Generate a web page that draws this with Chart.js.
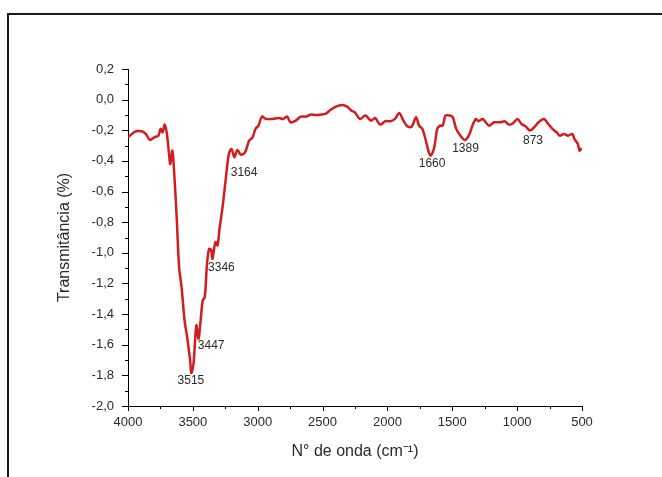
<!DOCTYPE html>
<html>
<head>
<meta charset="utf-8">
<script src="https://cdn.jsdelivr.net/npm/chart.js@4"></script>
<style>
  body { margin: 0; background: #fff; }
  #wrap { position: relative; width: 662px; height: 477px; }
</style>
</head>
<body>
<div id="wrap"><canvas id="ftir" width="662" height="477"></canvas></div>
<script>
// wavenumber (cm-1) and transmittance
const waveNumbers = [4000, 3945, 3896, 3863, 3831, 3798, 3766, 3749, 3733, 3717, 3700, 3684, 3674, 3658, 3645,
  3626, 3606, 3587, 3564, 3544, 3521, 3512, 3495, 3473, 3456, 3440, 3424, 3408, 3391, 3375, 3359, 3349,
  3326, 3310, 3293, 3271, 3245, 3222, 3202, 3180, 3157, 3131, 3098, 3066, 3040, 3017, 2994, 2968, 2935,
  2886, 2838, 2805, 2773, 2747, 2707, 2668, 2626, 2593, 2545, 2479, 2447, 2398, 2349, 2310, 2277, 2251,
  2212, 2170, 2127, 2095, 2056, 2017, 1975, 1942, 1909, 1877, 1844, 1812, 1779, 1756, 1730, 1704, 1681,
  1665, 1639, 1616, 1594, 1574, 1552, 1519, 1496, 1470, 1438, 1405, 1373, 1340, 1317, 1298, 1265, 1242,
  1216, 1177, 1128, 1096, 1063, 1031, 998, 966, 933, 900, 868, 835, 793, 760, 728, 695, 672, 640, 607,
  575, 558, 532, 519, 509, 500];
const transmittance = [-0.246, -0.209, -0.207, -0.224, -0.263, -0.246, -0.235, -0.191, -0.213, -0.163, -0.224,
  -0.354, -0.42, -0.333, -0.463, -0.746, -1.094, -1.224, -1.441, -1.55, -1.702, -1.785, -1.724, -1.474,
  -1.561, -1.441, -1.311, -1.289, -1.072, -0.974, -0.98, -1.039, -0.93, -0.952, -0.833, -0.702, -0.507,
  -0.354, -0.322, -0.376, -0.328, -0.359, -0.344, -0.267, -0.246, -0.191, -0.17, -0.111, -0.126, -0.126,
  -0.12, -0.126, -0.111, -0.148, -0.137, -0.111, -0.111, -0.098, -0.1, -0.093, -0.072, -0.046, -0.035,
  -0.046, -0.072, -0.083, -0.126, -0.104, -0.137, -0.12, -0.163, -0.141, -0.141, -0.126, -0.087, -0.137,
  -0.176, -0.176, -0.115, -0.17, -0.191, -0.267, -0.344, -0.365, -0.311, -0.191, -0.17, -0.17, -0.104,
  -0.104, -0.115, -0.191, -0.235, -0.263, -0.235, -0.159, -0.126, -0.141, -0.126, -0.148, -0.17, -0.148,
  -0.148, -0.141, -0.163, -0.154, -0.126, -0.159, -0.176, -0.202, -0.18, -0.148, -0.126, -0.159, -0.191,
  -0.213, -0.235, -0.224, -0.235, -0.224, -0.257, -0.289, -0.333, -0.322, -0.328];

// peak labels and where they sit (data units)
const peakLabels = ["3515", "3447", "3346", "3164", "1660", "1389", "873"];
const peakLabelX = [3515, 3359, 3280, 3105, 1656, 1398, 878];
const peakLabelY = [-1.833, -1.604, -1.094, -0.474, -0.415, -0.322, -0.267];

const xTickValues = [4000, 3500, 3000, 2500, 2000, 1500, 1000, 500];

const FONT = "Arial, 'Liberation Sans', sans-serif";

// frame, minor ticks and peak labels
const extras = {
  id: "extras",
  beforeDraw(chart) {
    const ctx = chart.ctx;
    ctx.save();
    ctx.fillStyle = "#fff";
    ctx.fillRect(0, 0, chart.width, chart.height);
    ctx.strokeStyle = "#1a1a1a";
    ctx.lineWidth = 2;
    ctx.beginPath();
    ctx.moveTo(8, chart.height);
    ctx.lineTo(8, 14);
    ctx.lineTo(chart.width, 14);
    ctx.stroke();
    ctx.restore();
  },
  afterDraw(chart) {
    const ctx = chart.ctx;
    const x = chart.scales.x, y = chart.scales.y;
    ctx.save();
    ctx.strokeStyle = "#000";
    ctx.lineWidth = 1;
    ctx.beginPath();
    for (let w = 500; w <= 4000; w += 250) {
      const px = Math.round(x.getPixelForValue(w)) + 0.5;
      const len = w % 500 === 0 ? 5 : 3;
      ctx.moveTo(px, y.bottom);
      ctx.lineTo(px, y.bottom + len);
    }
    for (let i = 0; i <= 22; i++) {
      const v = -2.0 + i * 0.1;
      const py = Math.round(y.getPixelForValue(v)) + 0.5;
      const len = i % 2 === 0 ? 6 : 3;
      ctx.moveTo(x.left, py);
      ctx.lineTo(x.left - len, py);
    }
    ctx.stroke();

    ctx.fillStyle = "#2a2a2a";
    ctx.font = "12px " + FONT;
    ctx.textAlign = "center";
    ctx.textBaseline = "middle";
    peakLabels.forEach((t, i) => {
      ctx.fillText(t, x.getPixelForValue(peakLabelX[i]), y.getPixelForValue(peakLabelY[i]));
    });
    ctx.restore();
  }
};

new Chart(document.getElementById("ftir"), {
  type: "line",
  data: {
    datasets: [{
      data: waveNumbers.map((w, i) => ({ x: w, y: transmittance[i] })),
      borderColor: "rgb(210, 28, 30)",
      borderWidth: 2.5,
      pointRadius: 0,
      tension: 0.3,
      fill: false
    }]
  },
  options: {
    responsive: false,
    animation: false,
    layout: { padding: { top: 69, right: 80, left: 0, bottom: 0 } },
    plugins: { legend: { display: false }, tooltip: { enabled: false } },
    scales: {
      x: {
        type: "linear",
        reverse: true,
        min: 500,
        max: 4000,
        afterFit: (s) => { s.height = 71; },
        afterBuildTicks: (s) => { s.ticks = xTickValues.map(v => ({ value: v })); },
        grid: { display: false, drawTicks: false, tickLength: 0 },
        border: { display: true, color: "#000", width: 1 },
        ticks: {
          color: "#2a2a2a",
          font: { size: 13, family: FONT },
          padding: 9,
          maxRotation: 0,
          callback: (v) => String(v)
        },
        title: {
          display: true,
          text: "N° de onda (cm⁻¹)",
          color: "#2a2a2a",
          font: { size: 16, family: FONT },
          padding: { top: 0, bottom: 16 }
        }
      },
      y: {
        min: -2.0,
        max: 0.2,
        afterFit: (s) => { s.width = 128; },
        ticks: {
          stepSize: 0.2,
          color: "#2a2a2a",
          font: { size: 13, family: FONT },
          padding: 14,
          callback: (v) => v.toFixed(1).replace(".", ",")
        },
        grid: { display: false, drawTicks: false, tickLength: 0 },
        border: { display: true, color: "#000", width: 1 },
        title: {
          display: true,
          text: "Transmitância (%)",
          color: "#2a2a2a",
          font: { size: 16, family: FONT },
          padding: { top: 55, bottom: 0 }
        }
      }
    }
  },
  plugins: [extras]
});
</script>
</body>
</html>
